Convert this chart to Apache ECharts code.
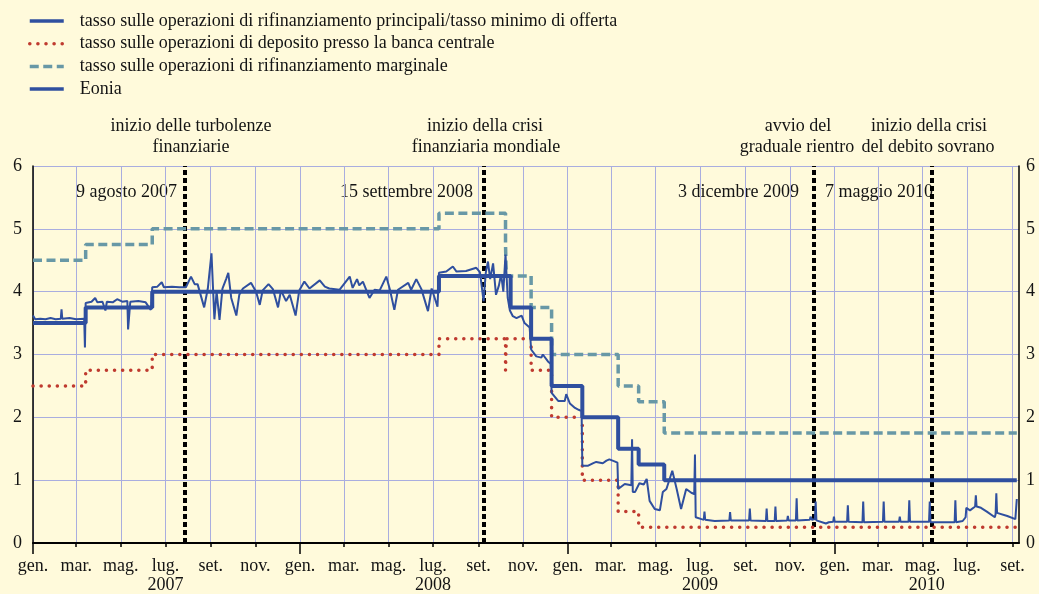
<!DOCTYPE html>
<html><head><meta charset="utf-8">
<script src="https://cdn.jsdelivr.net/npm/echarts@6/dist/echarts.min.js"></script>
<style>html,body{margin:0;padding:0;background:#fffadb;}#c{width:1039px;height:594px;}</style>
</head><body><div id="c"></div>
<script>
// ---------- DATA ----------
const seriesNames = [
  'tasso sulle operazioni di rifinanziamento principali/tasso minimo di offerta',
  'tasso sulle operazioni di deposito presso la banca centrale',
  'tasso sulle operazioni di rifinanziamento marginale',
  'Eonia'
];
const axisStart = '2007-01-01';
const axisEnd = '2010-09-10';
const monthNames = ['gen.','feb.','mar.','apr.','mag.','giu.','lug.','ago.','set.','ott.','nov.','dic.'];
const tickDates = ['2007-01-01','2007-03-01','2007-05-01','2007-07-01','2007-09-01','2007-11-01',
  '2008-01-01','2008-03-01','2008-05-01','2008-07-01','2008-09-01','2008-11-01',
  '2009-01-01','2009-03-01','2009-05-01','2009-07-01','2009-09-01','2009-11-01',
  '2010-01-01','2010-03-01','2010-05-01','2010-07-01','2010-09-01'];
const yearTickDates = ['2007-01-01','2008-01-01','2009-01-01','2010-01-01'];
const yearLabelDates = ['2007-07-01','2008-07-01','2009-07-01','2010-05-07'];
const yearLabels = ['2007','2008','2009','2010'];

const mroDates = ['2007-01-01','2007-03-14','2007-06-13','2008-07-09','2008-10-15','2008-11-12','2008-12-10','2009-01-21','2009-03-11','2009-04-08','2009-05-13','2010-09-07'];
const mroValues = [3.5,3.75,4.0,4.25,3.75,3.25,2.5,2.0,1.5,1.25,1.0,1.0];
const depDates = ['2007-01-01','2007-03-14','2007-06-13','2008-07-09','2008-10-08','2008-10-09','2008-11-12','2008-12-10','2009-01-21','2009-03-11','2009-04-08','2010-09-07'];
const depValues = [2.5,2.75,3.0,3.25,2.75,3.25,2.75,2.0,1.0,0.5,0.25,0.25];
const margDates = ['2007-01-01','2007-03-14','2007-06-13','2008-07-09','2008-10-08','2008-10-09','2008-11-12','2008-12-10','2009-03-11','2009-04-08','2009-05-13','2010-09-07'];
const margValues = [4.5,4.75,5.0,5.25,4.75,4.25,3.75,3.0,2.5,2.25,1.75,1.75];

const eonia = [
['2007-01-01',3.62],['2007-01-04',3.56],['2007-01-11',3.57],['2007-01-18',3.56],['2007-01-25',3.58],['2007-02-01',3.56],['2007-02-08',3.57],['2007-02-09',3.72],['2007-02-10',3.57],['2007-02-20',3.58],['2007-03-01',3.56],['2007-03-12',3.57],['2007-03-13',3.11],['2007-03-14',3.82],['2007-03-22',3.84],['2007-03-27',3.90],['2007-03-30',3.83],['2007-04-06',3.84],['2007-04-10',3.70],['2007-04-12',3.84],['2007-04-20',3.83],['2007-04-26',3.88],['2007-05-03',3.84],['2007-05-10',3.85],['2007-05-11',3.40],['2007-05-14',3.84],['2007-05-25',3.85],['2007-06-04',3.83],['2007-06-11',3.71],['2007-06-12',3.82],['2007-06-13',4.07],['2007-06-20',4.08],['2007-06-26',4.15],['2007-06-29',4.07],['2007-07-10',4.08],['2007-07-20',4.07],['2007-07-29',4.07],['2007-08-05',4.24],['2007-08-10',4.12],['2007-08-14',4.12],['2007-08-23',3.75],['2007-08-28',4.05],['2007-09-02',4.61],['2007-09-06',3.56],['2007-09-09',4.00],['2007-09-13',3.55],['2007-09-17',4.05],['2007-09-22',4.20],['2007-09-25',4.30],['2007-09-29',3.90],['2007-10-06',3.62],['2007-10-10',3.95],['2007-10-15',4.05],['2007-10-26',4.14],['2007-11-02',4.00],['2007-11-07',3.79],['2007-11-11',4.02],['2007-11-19',4.12],['2007-11-25',4.04],['2007-12-02',3.75],['2007-12-06',4.02],['2007-12-13',3.85],['2007-12-18',3.95],['2007-12-26',3.62],['2007-12-31',4.02],
['2008-01-07',4.16],['2008-01-14',4.05],['2008-01-28',4.18],['2008-02-04',4.08],['2008-02-10',4.05],['2008-02-24',4.03],['2008-03-09',4.24],['2008-03-13',4.06],['2008-03-19',4.20],['2008-03-22',4.10],['2008-03-27',4.16],['2008-04-05',3.90],['2008-04-12',4.03],['2008-04-19',4.02],['2008-04-28',4.24],['2008-05-03',4.03],['2008-05-09',3.71],['2008-05-14',4.03],['2008-05-28',4.14],['2008-06-01',4.03],['2008-06-08',4.20],['2008-06-15',4.04],['2008-06-24',3.69],['2008-06-29',4.05],['2008-07-07',3.76],['2008-07-09',4.30],['2008-07-19',4.32],['2008-07-28',4.40],['2008-08-02',4.32],['2008-08-15',4.33],['2008-08-29',4.38],['2008-09-03',4.31],['2008-09-08',3.85],['2008-09-11',4.30],['2008-09-14',4.48],['2008-09-17',4.20],['2008-09-21',4.45],['2008-09-25',3.95],['2008-09-29',4.10],['2008-10-02',4.28],['2008-10-05',4.00],['2008-10-08',4.59],['2008-10-11',3.90],['2008-10-14',3.70],['2008-10-18',3.61],['2008-10-23',3.58],['2008-10-30',3.62],['2008-11-03',3.50],['2008-11-10',3.43],['2008-11-12',3.08],['2008-11-19',2.97],['2008-11-26',2.95],['2008-11-28',3.00],['2008-12-05',2.89],['2008-12-09',2.85],['2008-12-10',2.39],['2008-12-19',2.26],['2008-12-28',2.26],['2008-12-30',2.37],
['2009-01-04',2.22],['2009-01-11',2.15],['2009-01-16',2.12],['2009-01-20',2.10],['2009-01-21',1.23],['2009-01-29',1.23],['2009-02-05',1.27],['2009-02-09',1.29],['2009-02-18',1.27],['2009-02-23',1.31],['2009-02-27',1.33],['2009-03-06',1.30],['2009-03-10',1.28],['2009-03-11',0.86],['2009-03-20',0.94],['2009-03-29',0.92],['2009-03-30',1.65],['2009-03-31',0.81],['2009-04-03',0.81],['2009-04-09',0.95],['2009-04-15',0.93],['2009-04-19',1.02],['2009-04-23',0.67],['2009-04-30',0.54],['2009-05-07',0.52],['2009-05-11',0.81],['2009-05-16',0.86],['2009-05-24',1.15],['2009-05-30',0.86],['2009-06-05',0.54],['2009-06-12',0.86],['2009-06-19',0.80],['2009-06-23',0.78],['2009-06-24',1.41],['2009-06-25',0.41],['2009-07-03',0.38],['2009-07-06',0.37],['2009-07-07',0.50],['2009-07-08',0.37],['2009-07-21',0.35],['2009-08-10',0.36],['2009-08-11',0.49],['2009-08-12',0.36],['2009-09-06',0.36],['2009-09-07',0.55],['2009-09-08',0.36],['2009-09-29',0.35],['2009-09-30',0.55],['2009-10-01',0.35],['2009-10-11',0.35],['2009-10-12',0.58],['2009-10-13',0.35],['2009-10-28',0.36],['2009-10-29',0.43],['2009-10-30',0.36],['2009-11-09',0.36],['2009-11-10',0.71],['2009-11-11',0.36],['2009-11-28',0.37],['2009-11-29',0.42],['2009-12-01',0.37],['2009-12-05',0.38],['2009-12-06',0.66],['2009-12-07',0.36],['2009-12-20',0.31],['2009-12-24',0.33],['2009-12-30',0.34],['2009-12-31',0.42],
['2010-01-01',0.34],['2010-01-18',0.34],['2010-01-19',0.60],['2010-01-20',0.34],['2010-02-08',0.33],['2010-02-09',0.66],['2010-02-10',0.33],['2010-03-08',0.34],['2010-03-09',0.66],['2010-03-10',0.34],['2010-03-30',0.34],['2010-03-31',0.42],['2010-04-01',0.34],['2010-04-12',0.34],['2010-04-13',0.68],['2010-04-14',0.34],['2010-05-10',0.34],['2010-05-11',0.66],['2010-05-12',0.33],['2010-06-14',0.33],['2010-06-15',0.68],['2010-06-16',0.33],['2010-06-25',0.35],['2010-06-29',0.41],['2010-06-30',0.56],['2010-07-05',0.52],['2010-07-12',0.58],['2010-07-13',0.76],['2010-07-14',0.58],['2010-07-20',0.56],['2010-07-28',0.50],['2010-08-08',0.41],['2010-08-09',0.46],['2010-08-10',0.79],['2010-08-11',0.48],['2010-08-25',0.43],['2010-09-05',0.38],['2010-09-07',0.70]
];

const eventDates = ['2007-07-28','2008-09-08','2009-12-03','2010-05-14'];
const eventDateLabels = ['9 agosto 2007','15 settembre 2008','3 dicembre 2009','7 maggio 2010'];
const eventTitles = [['inizio delle turbolenze','finanziarie'],['inizio della crisi','finanziaria mondiale'],['avvio del','graduale rientro'],['inizio della crisi','del debito sovrano']];

// ---------- CHART ----------
const FONT = '"Liberation Serif","DejaVu Serif",serif';
const FS = 18;
const TXT = '#141414';
const toMs = s => Date.UTC(+s.slice(0,4), +s.slice(5,7)-1, +s.slice(8,10));
const pairs = (d, v) => d.map((x,i)=>[toMs(x), v[i]]);
const xMin = toMs(axisStart), xMax = toMs(axisEnd);
const yearLabelMs = yearLabelDates.map(toMs);

const BLUE = '#2f4f9f', RED = '#bf3a2f', TEAL = '#6898a6', GRIDC = '#a9addf';

const chart = echarts.init(document.getElementById('c'), null, {renderer:'canvas'});

const titleX = [[191,191],[485,486],[798,797],[929,928]];
const datePos = [[177,'right'],[473,'right'],[799,'right'],[825,'left']];
const graphics = [];
eventTitles.forEach((lines,i)=>{
  lines.forEach((t,j)=>{
    graphics.push({type:'text', x: titleX[i][j], y: j===0?126:147,
      style:{text:t, font: FS+'px '+FONT, fill:TXT, textAlign:'center', textVerticalAlign:'middle'}});
  });
  graphics.push({type:'text', x: datePos[i][0], y: 192,
    style:{text:eventDateLabels[i], font: FS+'px '+FONT, fill:TXT, textAlign:datePos[i][1], textVerticalAlign:'middle'}});
});

const option = {
  backgroundColor: '#fffadb',
  animation: false,
  textStyle: {fontFamily: FONT},
  grid: {left:33, right:20, top:166, bottom:50, containLabel:false},
  legend: {
    orient:'vertical', left:28, top:12, padding:0, itemWidth:34, itemHeight:18, itemGap:4.7,
    data: seriesNames,
    textStyle:{fontFamily:FONT, fontSize:FS, color:TXT, padding:[0,0,0,11]},
    lineStyle:{width:3.5},
    itemStyle:{color:'rgba(0,0,0,0)', borderWidth:0, opacity:0},
    selectedMode:false
  },
  xAxis: [{
    type:'value', min:xMin, max:xMax, position:'bottom',
    axisLine:{show:true, onZero:false, lineStyle:{color:'#000', width:2}},
    axisTick:{show:true, customValues: tickDates.map(toMs), length:4, lineStyle:{color:'#000', width:1.5}},
    axisLabel:{customValues: tickDates.map(toMs), formatter: v => monthNames[new Date(v).getUTCMonth()],
      margin:14, fontSize:FS, color:TXT, fontFamily:FONT},
    splitLine:{show:true, lineStyle:{color:GRIDC, width:1}}
  },{
    type:'value', min:xMin, max:xMax, position:'bottom',
    axisLine:{show:false},
    axisTick:{show:true, customValues: yearTickDates.map(toMs), length:11, lineStyle:{color:'#000', width:1.5}},
    axisLabel:{customValues: yearLabelMs, formatter: v => yearLabels[yearLabelMs.indexOf(v)] || '',
      margin:33, fontSize:FS, color:TXT, fontFamily:FONT},
    splitLine:{show:false}
  }],
  yAxis: [{
    type:'value', min:0, max:6, interval:1, position:'left',
    axisLine:{show:true, lineStyle:{color:'#000', width:1.5}},
    axisTick:{show:false},
    axisLabel:{margin:11, fontSize:FS, color:TXT, fontFamily:FONT},
    splitLine:{show:true, lineStyle:{color:GRIDC, width:1}}
  },{
    type:'value', min:0, max:6, interval:1, position:'right',
    axisLine:{show:true, lineStyle:{color:'#000', width:1.5}},
    axisTick:{show:false},
    axisLabel:{margin:7, fontSize:FS, color:TXT, fontFamily:FONT},
    splitLine:{show:false}
  }],
  graphic: graphics,
  series: [
    {name:seriesNames[0], type:'line', step:'end', data:pairs(mroDates, mroValues), symbol:'none', z:4,
     itemStyle:{color:BLUE}, lineStyle:{color:BLUE, width:4}},
    {name:seriesNames[1], type:'line', step:'end', data:pairs(depDates, depValues), symbol:'none', z:3,
     itemStyle:{color:RED}, lineStyle:{color:RED, width:3.5, type:[0.1,8], cap:'round'}},
    {name:seriesNames[2], type:'line', step:'end', data:pairs(margDates, margValues), symbol:'none', z:3,
     itemStyle:{color:TEAL}, lineStyle:{color:TEAL, width:3.5, type:[9,4.5]}},
    {name:seriesNames[3], type:'line', data:eonia.map(p=>[toMs(p[0]), p[1]]), symbol:'none', z:5,
     itemStyle:{color:BLUE}, lineStyle:{color:BLUE, width:2},
     markLine:{silent:true, z:1, symbol:['none','none'], label:{show:false},
       lineStyle:{color:'#000', width:4, type:[5,3]},
       data: eventDates.map(d=>({xAxis: toMs(d)}))}}
  ]
};
chart.setOption(option);
</script></body></html>
